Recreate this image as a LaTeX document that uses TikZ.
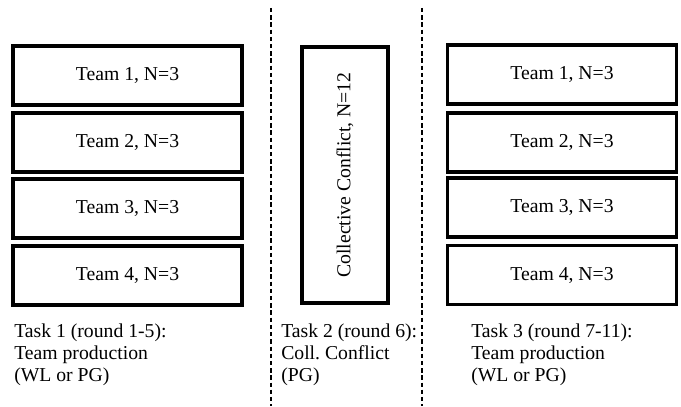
\documentclass[tikz,border=0pt]{standalone}
\usepackage{fontspec}
\setmainfont{Liberation Serif}
\tikzset{
  teambox/.style={draw=black, line width=2.6pt, fill=white, minimum width=5.72cm, minimum height=1.47cm, inner sep=0pt, font=\fontsize{14}{16}\selectfont},
  conflictbox/.style={draw=black, line width=2.6pt, fill=white, rotate=90, minimum width=6.4cm, minimum height=2.15cm, inner sep=0pt, font=\fontsize{14}{16}\selectfont},
  taskcaption/.style={anchor=north west, align=left, inner sep=0pt, font=\fontsize{14}{15.6}\selectfont},
  divider/.style={line width=0.9pt, draw=black, dash pattern=on 0.11cm off 0.07cm},
}

\begin{document}
\begin{tikzpicture}[x=0.025cm, y=-0.025cm]
\useasboundingbox (0,0) rectangle (681,406);
% separators between the three tasks
\coordinate (divAtop) at (271,8);
\coordinate (divAbot) at (271,406);
\coordinate (divBtop) at (422,8);
\coordinate (divBbot) at (422,406);
\draw[divider] (divAtop) -- (divAbot);
\draw[divider] (divBtop) -- (divBbot);
% task 1
\node[teambox] (left1) at (127.5,75.5) {Team 1, N=3};
\node[teambox] (left2) at (127.5,142.5) {Team 2, N=3};
\node[teambox] (left3) at (127.5,208.5) {Team 3, N=3};
\node[teambox] (left4) at (127.5,275.5) {Team 4, N=3};
\node[taskcaption] (cap1) at (14,324) {Task 1 (round 1-5):\\Team production\\(WL or PG)};
% task 2
\node[conflictbox] (coll) at (345,175) {Collective Conflict, N=12};
\node[taskcaption] (cap2) at (281,324) {Task 2 (round 6):\\Coll.\ Conflict\\(PG)};
% task 3
\node[teambox] (right1) at (562,74.5) {Team 1, N=3};
\node[teambox] (right2) at (562,142.5) {Team 2, N=3};
\node[teambox] (right3) at (562,207.5) {Team 3, N=3};
\node[teambox] (right4) at (562,275) {Team 4, N=3};
\node[taskcaption] (cap3) at (471,324) {Task 3 (round 7-11):\\Team production\\(WL or PG)};
\end{tikzpicture}
\end{document}
